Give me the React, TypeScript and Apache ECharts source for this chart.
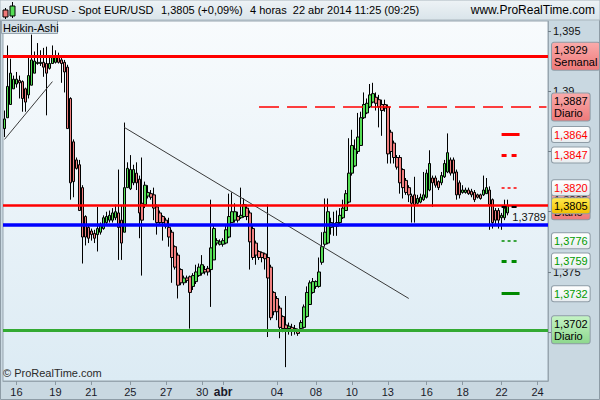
import React, { useEffect, useRef } from 'react';
import * as echarts from 'echarts';

const FONT = '"Liberation Sans", Arial, sans-serif';
const SLOTS = 182;

// x-axis ticks (bar index -> label)
const tickIndex = [4, 17, 29, 42, 54, 66, 73, 91, 104, 116, 128, 141, 153, 166, 178];
const tickText = ['16', '19', '21', '25', '27', '30', 'abr', '04', '08', '10', '13', '16', '18', '22', '24'];
const yTicks = [1.37, 1.375, 1.38, 1.385, 1.39, 1.395];
const yLabels = [1.375, 1.39, 1.395];

// Heikin-Ashi 4h bars
const haOpen = [
  1.3869, 1.3878, 1.3889, 1.3902, 1.3906, 1.3909, 1.3908, 1.3902, 1.3897, 1.3905,
  1.3915, 1.3923, 1.3923, 1.3924, 1.3923, 1.3919, 1.3923, 1.3924, 1.3928, 1.3926,
  1.3924, 1.3920, 1.3894, 1.3858, 1.3843, 1.3839, 1.3820, 1.3796, 1.3787, 1.3784,
  1.3782, 1.3781, 1.3783, 1.3786, 1.3791, 1.3793, 1.3793, 1.3795, 1.3799, 1.3793,
  1.3783, 1.3820, 1.3819, 1.3824, 1.3832, 1.3827, 1.3807, 1.3806, 1.3813, 1.3815,
  1.3814, 1.3804, 1.3799, 1.3796, 1.3793, 1.3787, 1.3783, 1.3771, 1.3764, 1.3752,
  1.3741, 1.3745, 1.3746, 1.3738, 1.3742, 1.3747, 1.3749, 1.3752, 1.3753, 1.3752,
  1.3760, 1.3774, 1.3773, 1.3773, 1.3774, 1.3779, 1.3791, 1.3793, 1.3796, 1.3795,
  1.3796, 1.3803, 1.3799, 1.3786, 1.3774, 1.3767, 1.3766, 1.3765, 1.3762, 1.3754,
  1.3733, 1.3728, 1.3720, 1.3713, 1.3706, 1.3703, 1.3704, 1.3703, 1.3702, 1.3703,
  1.3704, 1.3713, 1.3723, 1.3733, 1.3738, 1.3738, 1.3758, 1.3773, 1.3774, 1.3787,
  1.3788, 1.3788, 1.3791, 1.3795, 1.3801, 1.3808, 1.3832, 1.3838, 1.3850, 1.3855,
  1.3878, 1.3882, 1.3887, 1.3891, 1.3895, 1.3893, 1.3889, 1.3889, 1.3887, 1.3866,
  1.3857, 1.3845, 1.3845, 1.3835, 1.3826, 1.3820, 1.3813, 1.3814, 1.3807, 1.3808,
  1.3810, 1.3812, 1.3818, 1.3828, 1.3828, 1.3825, 1.3824, 1.3829, 1.3833, 1.3843,
  1.3843, 1.3833, 1.3824, 1.3816, 1.3816, 1.3818, 1.3817, 1.3816, 1.3814, 1.3814,
  1.3814, 1.3815, 1.3818, 1.3810, 1.3801, 1.3801, 1.3795, 1.3795, 1.3799,
];
const haClose = [
  1.3877, 1.3904, 1.3915, 1.3910, 1.3910, 1.3907, 1.3894, 1.3891, 1.3913, 1.3926,
  1.3925, 1.3924, 1.3924, 1.3920, 1.3915, 1.3923, 1.3928, 1.3928, 1.3924, 1.3923,
  1.3916, 1.3869, 1.3824, 1.3825, 1.3836, 1.3801, 1.3779, 1.3779, 1.3778, 1.3781,
  1.3778, 1.3786, 1.3789, 1.3795, 1.3796, 1.3797, 1.3799, 1.3800, 1.3787, 1.3774,
  1.3820, 1.3836, 1.3835, 1.3835, 1.3824, 1.3799, 1.3793, 1.3822, 1.3816, 1.3812,
  1.3803, 1.3791, 1.3791, 1.3791, 1.3788, 1.3779, 1.3762, 1.3754, 1.3739, 1.3741,
  1.3745, 1.3743, 1.3733, 1.3747, 1.3750, 1.3754, 1.3756, 1.3750, 1.3750, 1.3770,
  1.3786, 1.3776, 1.3775, 1.3776, 1.3785, 1.3796, 1.3800, 1.3800, 1.3793, 1.3797,
  1.3806, 1.3796, 1.3775, 1.3762, 1.3764, 1.3762, 1.3762, 1.3761, 1.3745, 1.3712,
  1.3717, 1.3717, 1.3704, 1.3703, 1.3703, 1.3705, 1.3702, 1.3701, 1.3699, 1.3708,
  1.3721, 1.3733, 1.3741, 1.3742, 1.3742, 1.3750, 1.3771, 1.3783, 1.3800, 1.3791,
  1.3790, 1.3791, 1.3797, 1.3803, 1.3815, 1.3832, 1.3855, 1.3852, 1.3862, 1.3878,
  1.3889, 1.3890, 1.3897, 1.3898, 1.3890, 1.3887, 1.3884, 1.3886, 1.3848, 1.3850,
  1.3845, 1.3837, 1.3824, 1.3820, 1.3816, 1.3814, 1.3807, 1.3806, 1.3811, 1.3812,
  1.3814, 1.3832, 1.3840, 1.3824, 1.3822, 1.3820, 1.3830, 1.3840, 1.3849, 1.3832,
  1.3832, 1.3814, 1.3814, 1.3818, 1.3818, 1.3815, 1.3814, 1.3810, 1.3812, 1.3811,
  1.3818, 1.3820, 1.3806, 1.3791, 1.3793, 1.3793, 1.3797, 1.3803, 1.3805,
];
const haLow = [
  1.3862, 1.3878, 1.3889, 1.3902, 1.3903, 1.3894, 1.3883, 1.3883, 1.3894, 1.3905,
  1.3915, 1.3922, 1.3921, 1.3912, 1.3880, 1.3918, 1.3923, 1.3923, 1.3923, 1.3907,
  1.3899, 1.3869, 1.3810, 1.3812, 1.3835, 1.3801, 1.3757, 1.3772, 1.3774, 1.3776,
  1.3774, 1.3767, 1.3781, 1.3785, 1.3789, 1.3791, 1.3791, 1.3793, 1.3760, 1.3760,
  1.3783, 1.3820, 1.3818, 1.3822, 1.3818, 1.3778, 1.3747, 1.3803, 1.3811, 1.3810,
  1.3793, 1.3781, 1.3789, 1.3776, 1.3786, 1.3771, 1.3741, 1.3752, 1.3728, 1.3739,
  1.3739, 1.3741, 1.3703, 1.3735, 1.3740, 1.3746, 1.3747, 1.3748, 1.3747, 1.3721,
  1.3760, 1.3772, 1.3772, 1.3771, 1.3773, 1.3778, 1.3791, 1.3791, 1.3791, 1.3794,
  1.3795, 1.3793, 1.3752, 1.3760, 1.3756, 1.3760, 1.3758, 1.3752, 1.3696, 1.3710,
  1.3714, 1.3710, 1.3695, 1.3700, 1.3671, 1.3698, 1.3697, 1.3698, 1.3697, 1.3701,
  1.3703, 1.3712, 1.3723, 1.3732, 1.3736, 1.3737, 1.3756, 1.3771, 1.3773, 1.3781,
  1.3780, 1.3780, 1.3789, 1.3794, 1.3801, 1.3807, 1.3830, 1.3837, 1.3848, 1.3855,
  1.3877, 1.3881, 1.3886, 1.3890, 1.3884, 1.3870, 1.3863, 1.3883, 1.3840, 1.3840,
  1.3840, 1.3835, 1.3815, 1.3811, 1.3814, 1.3808, 1.3791, 1.3791, 1.3806, 1.3807,
  1.3809, 1.3811, 1.3817, 1.3804, 1.3820, 1.3818, 1.3822, 1.3828, 1.3832, 1.3830,
  1.3826, 1.3810, 1.3811, 1.3815, 1.3815, 1.3814, 1.3812, 1.3808, 1.3811, 1.3810,
  1.3813, 1.3815, 1.3785, 1.3786, 1.3789, 1.3786, 1.3785, 1.3793, 1.3797,
];
const haHigh = [
  1.3884, 1.3938, 1.3927, 1.3913, 1.3916, 1.3913, 1.3909, 1.3903, 1.3928, 1.3947,
  1.3933, 1.3940, 1.3934, 1.3936, 1.3937, 1.3930, 1.3938, 1.3934, 1.3932, 1.3929,
  1.3926, 1.3922, 1.3895, 1.3860, 1.3845, 1.3843, 1.3822, 1.3797, 1.3789, 1.3786,
  1.3785, 1.3804, 1.3791, 1.3797, 1.3800, 1.3801, 1.3803, 1.3806, 1.3835, 1.3805,
  1.3874, 1.3841, 1.3847, 1.3839, 1.3841, 1.3830, 1.3845, 1.3825, 1.3822, 1.3818,
  1.3820, 1.3806, 1.3801, 1.3797, 1.3795, 1.3795, 1.3785, 1.3772, 1.3766, 1.3753,
  1.3747, 1.3747, 1.3747, 1.3749, 1.3756, 1.3757, 1.3764, 1.3755, 1.3755, 1.3810,
  1.3789, 1.3778, 1.3777, 1.3778, 1.3789, 1.3815, 1.3816, 1.3807, 1.3800, 1.3820,
  1.3811, 1.3806, 1.3801, 1.3789, 1.3776, 1.3768, 1.3767, 1.3766, 1.3806, 1.3756,
  1.3734, 1.3730, 1.3722, 1.3714, 1.3730, 1.3708, 1.3707, 1.3706, 1.3703, 1.3710,
  1.3723, 1.3738, 1.3743, 1.3745, 1.3743, 1.3762, 1.3783, 1.3811, 1.3811, 1.3795,
  1.3800, 1.3801, 1.3803, 1.3810, 1.3818, 1.3861, 1.3868, 1.3860, 1.3882, 1.3883,
  1.3899, 1.3894, 1.3906, 1.3907, 1.3899, 1.3897, 1.3893, 1.3893, 1.3889, 1.3868,
  1.3859, 1.3847, 1.3847, 1.3836, 1.3828, 1.3822, 1.3815, 1.3829, 1.3814, 1.3815,
  1.3833, 1.3835, 1.3851, 1.3830, 1.3830, 1.3826, 1.3833, 1.3843, 1.3865, 1.3845,
  1.3845, 1.3835, 1.3826, 1.3822, 1.3820, 1.3820, 1.3819, 1.3818, 1.3815, 1.3815,
  1.3830, 1.3828, 1.3821, 1.3811, 1.3803, 1.3803, 1.3799, 1.3810, 1.3810,
];

// levels
const weeklyPivot = 1.3929;
const dailyR = 1.3887;
const redLevels = [1.3864, 1.3847, 1.3820];
const dailyPivot = 1.3805;
const blueLevel = 1.3789;
const greenLevels = [1.3776, 1.3759, 1.3732];
const dailyS = 1.3702;
const lastPrice = 1.3805;
const trendA = [[0, 1.3860], [16, 1.3908]];
const trendB = [[40, 1.3870], [135, 1.3728]];
const segStart = 166;
const segEnd = 172;
const dashStart = 85;

const fmt = (v: number) => v.toFixed(4).replace('.', ',');
const grad = (a: string, b: string) =>
  new echarts.graphic.LinearGradient(0, 0, 0, 1, [
    { offset: 0, color: a },
    { offset: 1, color: b },
  ]);

const box = (text: string, fill: any, color: string) => ({
  show: true,
  position: 'end',
  distance: 4,
  formatter: text,
  color,
  fontSize: 11,
  fontFamily: FONT,
  lineHeight: 12,
  backgroundColor: fill,
  borderColor: '#8e9ca6',
  borderWidth: 1,
  borderRadius: 2,
  padding: [2, 2, 1, 2],
});

const hidden = { color: 'rgba(0,0,0,0)', width: 0 };

export default function App() {
  const ref = useRef<HTMLDivElement>(null);
  useEffect(() => {
    const chart = echarts.init(ref.current!, null, { renderer: 'svg' });
    const categories = Array.from({ length: SLOTS }, (_, i) => String(i));
    const data = haOpen.map((o, i) => [o, haClose[i], haLow[i], haHigh[i]]);
    const salmon = grad('#f9aaaa', '#ee7a7a');
    const white = grad('#ffffff', '#e8edf0');
    const greenFill = grad('#c4f3c4', '#8ed88e');
    const yellow = grad('#ffe94f', '#f2c100');
    const seg = (v: number, style: any) => [
      { coord: [segStart, v], lineStyle: style },
      { coord: [segEnd, v] },
    ];
    const carrier = (v: number, label: any) => ({ yAxis: v, lineStyle: hidden, label });

    const markData: any[] = [
      [{ coord: trendA[0], lineStyle: { color: '#3a3a3a', width: 1, type: 'solid' } }, { coord: trendA[1] }],
      [{ coord: trendB[0], lineStyle: { color: '#3a3a3a', width: 1, type: 'solid' } }, { coord: trendB[1] }],
      { yAxis: weeklyPivot, lineStyle: { color: '#ff0000', width: 3, type: 'solid' } },
      [{ coord: [dashStart, dailyR], lineStyle: { color: '#ff0000', width: 1.5, type: [20, 8] } }, { coord: [SLOTS - 1, dailyR] }],
      seg(redLevels[0], { color: '#ff0000', width: 3, type: 'solid' }),
      seg(redLevels[1], { color: '#ff0000', width: 3, type: [5, 5] }),
      seg(redLevels[2], { color: '#ff0000', width: 1.5, type: [3, 3] }),
      { yAxis: dailyPivot, lineStyle: { color: '#ff0000', width: 2.5, type: 'solid' } },
      {
        yAxis: blueLevel,
        lineStyle: { color: '#0000ff', width: 3.5, type: 'solid' },
        label: { show: true, position: 'insideEndTop', formatter: fmt(blueLevel), color: '#111', fontSize: 11, fontFamily: FONT, distance: 2 },
      },
      seg(greenLevels[0], { color: '#008a00', width: 1.5, type: [3, 3] }),
      seg(greenLevels[1], { color: '#008a00', width: 3, type: [5, 5] }),
      seg(greenLevels[2], { color: '#008a00', width: 3, type: 'solid' }),
      { yAxis: dailyS, lineStyle: { color: '#33aa33', width: 3, type: 'solid' } },
      [{ coord: [segStart, lastPrice - 0.0001], lineStyle: { color: '#000', width: 2, type: [5, 5] } }, { coord: [segEnd, lastPrice - 0.0001] }],
      carrier(weeklyPivot, box(fmt(weeklyPivot) + '\nSemanal', salmon, '#000')),
      carrier(dailyR, box(fmt(dailyR) + '\nDiario', salmon, '#000')),
      carrier(redLevels[0], box(fmt(redLevels[0]), white, '#ff0000')),
      carrier(redLevels[1], box(fmt(redLevels[1]), white, '#ff0000')),
      carrier(dailyPivot, box(fmt(dailyPivot) + '\nDiario', salmon, '#000')),
      carrier(redLevels[2], box(fmt(redLevels[2]), white, '#ff0000')),
      carrier(greenLevels[0], box(fmt(greenLevels[0]), white, '#009a00')),
      carrier(greenLevels[1], box(fmt(greenLevels[1]), white, '#009a00')),
      carrier(greenLevels[2], box(fmt(greenLevels[2]), white, '#009a00')),
      carrier(dailyS, box(fmt(dailyS) + '\nDiario', greenFill, '#000')),
      carrier(lastPrice, box(fmt(lastPrice), yellow, '#000')),
    ];

    const option: any = {
      animation: false,
      backgroundColor: '#c9d8e1',
      textStyle: { fontFamily: FONT },
      grid: {
        left: 3,
        top: 21,
        right: 52,
        bottom: 19,
        containLabel: false,
        outerBoundsMode: 'none',
        show: true,
        backgroundColor: grad('#f8fbfd', '#dcebf4'),
        borderColor: '#97a5af',
        borderWidth: 1,
      },
      xAxis: {
        type: 'category',
        data: categories,
        boundaryGap: true,
        axisLine: { show: true, lineStyle: { color: '#97a5af' } },
        axisTick: {
          show: true,
          alignWithLabel: true,
          length: 4,
          interval: (i: number) => tickIndex.includes(i),
          lineStyle: { color: '#8a98a2' },
        },
        axisLabel: {
          interval: (i: number) => tickIndex.includes(i),
          formatter: (v: string) => {
            const k = tickIndex.indexOf(Number(v));
            if (k < 0) return '';
            const t = tickText[k];
            return t === 'abr' ? '{b|abr}' : t;
          },
          color: '#1a1a2a',
          fontSize: 11,
          fontFamily: FONT,
          margin: 5,
          rich: { b: { fontWeight: 'bold', fontSize: 12, fontFamily: FONT, color: '#1a1a2a' } },
        },
        splitLine: { show: false },
      },
      yAxis: {
        type: 'value',
        position: 'right',
        min: 1.36595,
        max: 1.39583,
        scale: true,
        axisLine: { show: true, lineStyle: { color: '#97a5af' } },
        axisTick: { show: true, length: 3, customValues: yTicks, lineStyle: { color: '#6f7d87' } },
        axisLabel: {
          customValues: yLabels,
          formatter: (v: number) => String(v).replace('.', ','),
          color: '#111',
          fontSize: 11,
          fontFamily: FONT,
          margin: 5,
        },
        splitLine: { show: false },
      },
      graphic: [
        {
          type: 'rect',
          z: 100,
          shape: { x: 0, y: 0, width: 600, height: 20 },
          style: { fill: grad('#eef3f6', '#d9e4ea'), stroke: '#aab6be', lineWidth: 1 },
        },
        { type: 'line', z: 101, shape: { x1: 5.5, y1: 8, x2: 5.5, y2: 19 }, style: { stroke: '#000', lineWidth: 1 } },
        { type: 'rect', z: 102, shape: { x: 3, y: 10, width: 5, height: 7 }, style: { fill: '#f07878', stroke: '#000', lineWidth: 1 } },
        { type: 'line', z: 101, shape: { x1: 12.5, y1: 2, x2: 12.5, y2: 18 }, style: { stroke: '#000', lineWidth: 1 } },
        { type: 'rect', z: 102, shape: { x: 10, y: 6, width: 5, height: 10 }, style: { fill: '#55dd55', stroke: '#000', lineWidth: 1 } },
        {
          type: 'text', z: 103, x: 22, y: 10,
          style: { text: 'EURUSD - Spot EUR/USD', fill: '#000', fontSize: 11, fontFamily: FONT, verticalAlign: 'middle', align: 'left' },
        },
        {
          type: 'text', z: 103, x: 161, y: 10,
          style: { text: '1,3805 (+0,09%)', fill: '#000', fontSize: 11, fontFamily: FONT, verticalAlign: 'middle', align: 'left' },
        },
        {
          type: 'text', z: 103, x: 250, y: 10,
          style: { text: '4 horas  22 abr 2014 11:25 (09:25)', fill: '#000', fontSize: 11, fontFamily: FONT, verticalAlign: 'middle', align: 'left' },
        },
        {
          type: 'text', z: 103, x: 595, y: 10,
          style: { text: 'www.ProRealTime.com', fill: '#000', fontSize: 12, fontFamily: FONT, verticalAlign: 'middle', align: 'right' },
        },
        {
          type: 'rect', z: 100,
          shape: { x: 1.5, y: 20.5, width: 56, height: 13 },
          style: { fill: '#d2dee6', stroke: '#97a5af', lineWidth: 1 },
        },
        {
          type: 'text', z: 103, x: 3, y: 27.5,
          style: { text: 'Heikin-Ashi', fill: '#000', fontSize: 11, fontFamily: FONT, verticalAlign: 'middle', align: 'left' },
        },
        {
          type: 'text', z: 103, x: 3, y: 373,
          style: { text: '© ProRealTime.com', fill: '#2a2a2a', fontSize: 11, fontFamily: FONT, verticalAlign: 'middle', align: 'left' },
        },
        {
          type: 'rect', z: 99,
          shape: { x: 0.5, y: 0.5, width: 599, height: 399 },
          style: { fill: 'none', stroke: '#8e9ca6', lineWidth: 1 },
        },
      ],
      series: [
        {
          type: 'candlestick',
          name: 'Heikin-Ashi',
          data,
          barWidth: 3,
          itemStyle: {
            color: '#55dd55',
            color0: '#f08080',
            borderColor: '#000',
            borderColor0: '#000',
            borderWidth: 1,
          },
          markLine: {
            silent: true,
            symbol: ['none', 'none'],
            animation: false,
            precision: 5,
            label: { show: false },
            emphasis: { disabled: true },
            data: markData,
          },
        },
      ],
    };
    chart.setOption(option);
    return () => chart.dispose();
  }, []);
  return <div ref={ref} style={{ position: 'fixed', left: 0, top: 0, width: 600, height: 400 }} />;
}
